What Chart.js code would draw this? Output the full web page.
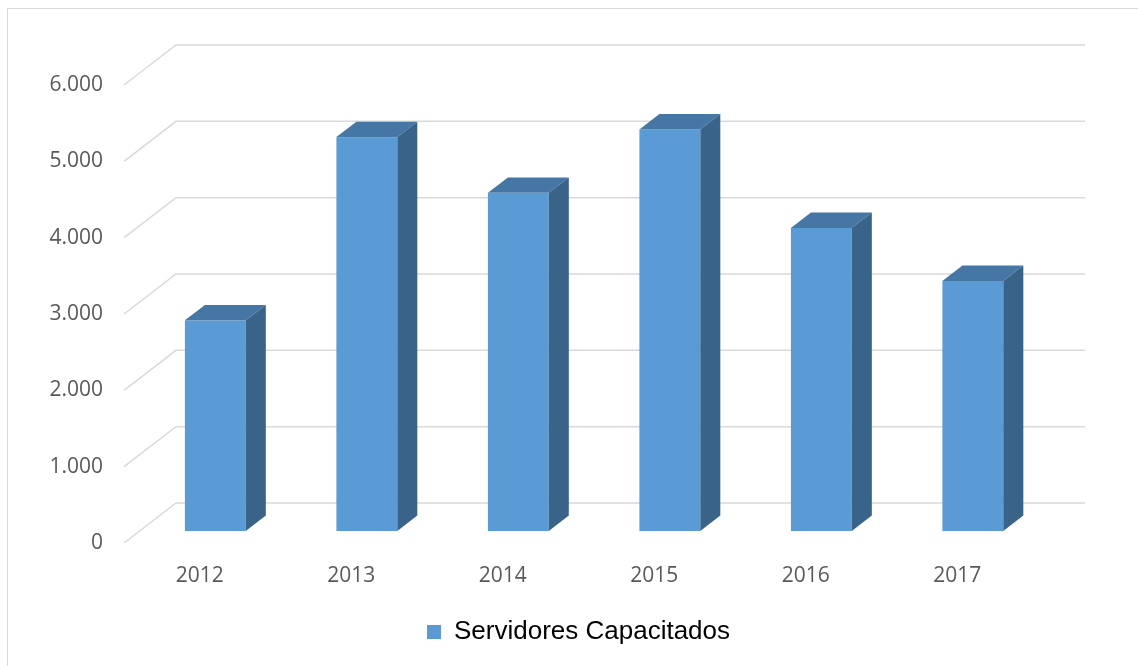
<!DOCTYPE html>
<html><head><meta charset="utf-8">
<script src="https://cdn.jsdelivr.net/npm/chart.js@4/dist/chart.umd.min.js"></script>
<style>
html,body{margin:0;padding:0;background:#fff;}
#wrap{position:relative;width:1138px;height:666px;overflow:hidden;background:#fff;}
#frame{position:absolute;left:7px;top:8px;width:1200px;height:700px;border:1px solid #d9d9d9;}
canvas{position:absolute;left:0;top:0;}
</style></head><body>
<div id="wrap"><div id="frame"></div><canvas id="c" width="1138" height="666"></canvas></div>
<script>
const years = ['2012','2013','2014','2015','2016','2017'];
const servidores = [2760, 5160, 4430, 5260, 3970, 3275];
const yTickLabels = ['0','1.000','2.000','3.000','4.000','5.000','6.000'];
const seriesName = 'Servidores Capacitados';

const depth = {dx: 52, dy: -40, barOffset: 0.3, barDepth: 0.385, barWidth: 0.402};
const colors = {front: '#5B9BD5', top: '#4676A4', side: '#3A6389', grid: '#D9D9D9'};

function poly(ctx, pts){
  ctx.beginPath();
  ctx.moveTo(pts[0][0], pts[0][1]);
  for (let i = 1; i < pts.length; i++) ctx.lineTo(pts[i][0], pts[i][1]);
  ctx.closePath();
  ctx.fill();
}

const bar3d = {
  id: 'bar3d',
  beforeDatasetsDraw(chart){
    const {ctx, chartArea: a, scales: {x, y}} = chart;
    ctx.save();
    ctx.strokeStyle = colors.grid;
    ctx.lineWidth = 1.5;
    y.ticks.forEach(t => {
      const py = y.getPixelForValue(t.value);
      ctx.beginPath();
      ctx.moveTo(a.left, py);
      ctx.lineTo(a.left + depth.dx, py + depth.dy);
      ctx.lineTo(a.right + depth.dx, py + depth.dy);
      ctx.stroke();
    });
    const labels = chart.data.labels;
    const slot = (a.right - a.left) / labels.length;
    const y0 = y.getPixelForValue(0);
    const ox = depth.dx * depth.barOffset, oy = depth.dy * depth.barOffset;
    const ddx = depth.dx * depth.barDepth, ddy = depth.dy * depth.barDepth;
    chart.data.datasets.forEach(ds => {
      ds.data.forEach((v, i) => {
        const cx = x.getPixelForValue(i);
        const bw = slot * depth.barWidth;
        const L = cx + ox - bw / 2, R = L + bw;
        const B = y0 + oy, T = y.getPixelForValue(v) + oy;
        ctx.fillStyle = colors.front;
        ctx.fillRect(L, T, bw, B - T);
        ctx.fillStyle = colors.top;
        poly(ctx, [[L, T], [R, T], [R + ddx, T + ddy], [L + ddx, T + ddy]]);
        ctx.fillStyle = colors.side;
        poly(ctx, [[R, T], [R + ddx, T + ddy], [R + ddx, B + ddy], [R, B]]);
      });
    });
    ctx.restore();
    return false;
  }
};

new Chart(document.getElementById('c'), {
  type: 'bar',
  data: {
    labels: years,
    datasets: [{
      label: seriesName,
      data: servidores,
      backgroundColor: colors.front,
      borderWidth: 0
    }]
  },
  options: {
    responsive: false,
    animation: false,
    layout: {padding: {top: 85, right: 105, bottom: 11, left: 0}},
    plugins: {
      tooltip: {enabled: false},
      legend: {
        position: 'bottom',
        fullSize: false,
        labels: {
          boxWidth: 14, boxHeight: 14, padding: 10,
          color: '#000',
          font: {family: 'Liberation Sans', size: 26}
        }
      }
    },
    scales: {
      x: {
        grid: {display: false, drawTicks: false},
        border: {display: false},
        ticks: {padding: 20, color: '#595959', font: {family: 'Open Sans', size: 21}},
        afterFit(s){ s.height = 66; }
      },
      y: {
        min: 0, max: 6000,
        grid: {display: false, drawTicks: false},
        border: {display: false},
        ticks: {
          stepSize: 1000, padding: 21, color: '#595959',
          font: {family: 'Open Sans', size: 21},
          callback: (v, i) => yTickLabels[i]
        },
        afterFit(s){ s.width = 124; }
      }
    }
  },
  plugins: [bar3d]
});
</script>
</body></html>
